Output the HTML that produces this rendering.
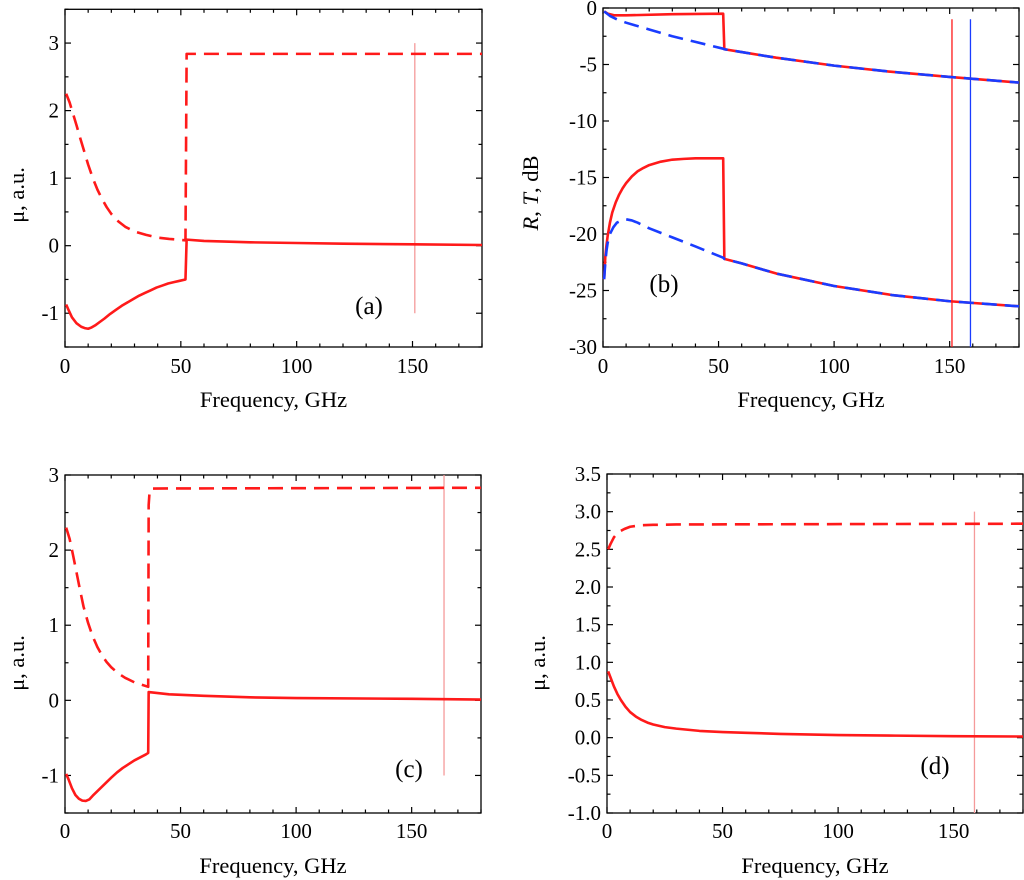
<!DOCTYPE html>
<html><head><meta charset="utf-8"><style>
html,body{margin:0;padding:0;background:#fff;}
svg{display:block;font-family:"Liberation Serif",serif;}
</style></head><body>
<svg id="fig" width="1024" height="880" viewBox="0 0 1024 880" xmlns="http://www.w3.org/2000/svg"></svg>
<script>
// ---- Panel (a) data ----
const aSolidF = [0.5,1.5,3,5,7,8.5,10,11.5,13,15,17,19.5,22,24.5,27,29.5,32,34.5,37,39.5,42,44.5,47,49.5,52,52.5,60,80,100,120,150,180];
const aSolidV = [-0.87,-0.95,-1.06,-1.15,-1.2,-1.22,-1.23,-1.21,-1.18,-1.13,-1.08,-1.01,-0.95,-0.89,-0.84,-0.79,-0.74,-0.7,-0.66,-0.62,-0.59,-0.56,-0.54,-0.52,-0.5,0.09,0.07,0.05,0.04,0.03,0.02,0.01];
const aDashF = [0.5,2,3.5,5,6.5,8,10,12,14,16,18,20,23,26,30,35,40,45,52,52.5,180];
const aDashV = [2.25,2.12,1.95,1.78,1.6,1.43,1.2,1.0,0.83,0.69,0.57,0.47,0.36,0.28,0.21,0.16,0.12,0.1,0.08,2.84,2.84];
const aMarker = [151];
// ---- Panel (b) data ----
const bRtopF = [0.5,2,5,10,30,52,52.5,60,75,100,125,150,180];
const bRtopV = [-0.3,-0.5,-0.65,-0.65,-0.55,-0.5,-3.65,-3.9,-4.4,-5.1,-5.65,-6.1,-6.6];
const bBtopF = [0.5,3,6,10,20,30,40,52,52.5,60,75,100,125,150,180];
const bBtopV = [-0.3,-0.7,-1.0,-1.3,-1.9,-2.5,-3.0,-3.6,-3.65,-3.9,-4.4,-5.1,-5.65,-6.1,-6.6];
const bRlowF = [0.5,1,1.5,2,3,4,5.5,7,8.5,10,12.5,15,17.5,20,25,30,35,40,46,52,52.5,60,75,100,125,150,180];
const bRlowV = [-24,-22,-21,-20.2,-19,-18.1,-17.2,-16.5,-15.95,-15.5,-14.9,-14.45,-14.15,-13.9,-13.6,-13.42,-13.35,-13.3,-13.3,-13.3,-22.2,-22.6,-23.5,-24.6,-25.4,-25.95,-26.4];
const bBlowF = [0.5,1,1.5,2,3,4.5,6,8,10,12.5,15,20,30,40,52,52.5,60,75,100,125,150,180];
const bBlowV = [-24,-22.5,-21.5,-20.8,-20,-19.4,-19,-18.8,-18.7,-18.8,-19.0,-19.5,-20.3,-21.1,-22.1,-22.2,-22.6,-23.5,-24.6,-25.4,-25.95,-26.4];
const bMarkers = [151,159];
// ---- Panel (c) data ----
const cSolidF = [0.5,1.5,3,4.5,6,7.5,9,10.5,12,14,16,18,20,22.5,25,27.5,30,32.5,35,36,36.2,45,60,80,100,150,180];
const cSolidV = [-0.98,-1.05,-1.17,-1.26,-1.31,-1.335,-1.34,-1.32,-1.27,-1.21,-1.15,-1.09,-1.03,-0.96,-0.9,-0.85,-0.8,-0.76,-0.72,-0.7,0.11,0.08,0.06,0.04,0.03,0.02,0.01];
const cDashF = [0.5,2,3.5,5,6.5,8,10,12,14,16,18,20,23,26,30,33,36,36.2,36.6,37.5,180];
const cDashV = [2.3,2.15,1.93,1.7,1.47,1.25,1.03,0.85,0.71,0.6,0.51,0.44,0.36,0.3,0.24,0.21,0.18,2.6,2.78,2.82,2.83];
const cMarker = [164];
// ---- Panel (d) data ----
const dSolidF = [0.5,1.5,3,4.5,6,8,10,12.5,15,17.5,20,25,30,40,50,60,75,100,125,150,180];
const dSolidV = [0.88,0.8,0.68,0.58,0.5,0.41,0.34,0.28,0.235,0.2,0.175,0.14,0.12,0.09,0.075,0.065,0.05,0.035,0.027,0.02,0.015];
const dDashF = [0.5,1.5,3,5,7.5,10,12.5,15,20,30,180];
const dDashV = [2.5,2.57,2.66,2.73,2.77,2.8,2.81,2.82,2.825,2.83,2.84];
const dMarker = [159];
// ---- tick labels ----
const xTicks = [0,50,100,150];
const aYTicks = [-1,0,1,2,3];
const bYTicks = [0,-5,-10,-15,-20,-25,-30];
const cYTicks = [-1,0,1,2,3];
const dYTicks = [-1.0,-0.5,0.0,0.5,1.0,1.5,2.0,2.5,3.0,3.5];

const NS="http://www.w3.org/2000/svg";
const svg=document.getElementById('fig');
function mk(tag,parent){const e=document.createElementNS(NS,tag);parent.appendChild(e);return e;}

function panel(cfg){
  const g=mk('g',svg);
  
  
  const X=f=>cfg.x0+(f-0)/(180-0)*(cfg.x1-cfg.x0);
  const Y=v=>cfg.y1+(v-cfg.ymin)/(cfg.ymax-cfg.ymin)*(cfg.y0-cfg.y1);
  const box=mk('rect',g);
  box.setAttribute('x',cfg.x0);box.setAttribute('y',cfg.y0);
  box.setAttribute('width',cfg.x1-cfg.x0);box.setAttribute('height',cfg.y1-cfg.y0);
  box.setAttribute('fill','none');box.setAttribute('stroke','#000');box.setAttribute('stroke-width','1.3');
  
  
  const tk=mk('g',g);
  
  
  tk.setAttribute('stroke','#000');tk.setAttribute('stroke-width','1.2');
  function line(p,x1,y1,x2,y2){const l=mk('line',p);l.setAttribute('x1',x1);l.setAttribute('y1',y1);l.setAttribute('x2',x2);l.setAttribute('y2',y2);return l;}
  for(let f=0;f<=180;f+=10){const L=(f%50===0)?6:3.5;const x=X(f);
    line(tk,x,cfg.y1,x,cfg.y1-L);line(tk,x,cfg.y0,x,cfg.y0+L);}
  for(let i=0;i<=cfg.nMinor;i++){const v=cfg.ymin+i*cfg.minorStep;const major=(Math.round((v-cfg.ymin)/cfg.minorStep)%2===cfg.majorParity);const L=major?6:3.5;const y=Y(v);
    line(tk,cfg.x0,y,cfg.x0+L,y);line(tk,cfg.x1,y,cfg.x1-L,y);}
  xTicks.forEach(t=>{const e=mk('text',g);e.setAttribute('x',X(t));e.setAttribute('y',cfg.xlabY);
    e.setAttribute('text-anchor','middle');e.setAttribute('font-size','21');e.textContent=t;
    
    });
  cfg.yTicks.forEach(t=>{const e=mk('text',g);e.setAttribute('x',cfg.x0-6);e.setAttribute('y',Y(t)+7);
    e.setAttribute('text-anchor','end');e.setAttribute('font-size','21');e.textContent=cfg.fmt(t);
    
    });
  const xt=mk('text',g);xt.setAttribute('x',(cfg.x0+cfg.x1)/2);xt.setAttribute('y',cfg.xtitleY);
  xt.setAttribute('text-anchor','middle');xt.setAttribute('font-size','22.5');xt.textContent='Frequency, GHz';
  
  
  const yt=mk('text',g);yt.setAttribute('transform','translate('+cfg.ytX+','+cfg.ytY+') rotate(-90)');
  yt.setAttribute('text-anchor','middle');yt.setAttribute('font-size','22.5');
  if(cfg.yHTML){yt.innerHTML=cfg.yHTML;}else{yt.textContent=cfg.ytitle;}
  
  
  cfg.markers.forEach(m=>{const l=line(g,X(m[0]),Y(m[1]),X(m[0]),Y(m[2]));l.setAttribute('stroke',m[3]);l.setAttribute('stroke-width','1.3');
    
    });
  cfg.series.forEach(s=>{const p=mk('path',g);
    p.setAttribute('d',s.f.map((f,i)=>(i?'L':'M')+X(f).toFixed(2)+','+Y(s.v[i]).toFixed(2)).join(''));
    p.setAttribute('fill','none');p.setAttribute('stroke',s.c);p.setAttribute('stroke-width','2.6');
    p.setAttribute('stroke-linejoin','round');
    if(s.dash)p.setAttribute('stroke-dasharray','15,8');
    
    });
  const lb=mk('text',g);lb.setAttribute('x',cfg.lab[0]);lb.setAttribute('y',cfg.lab[1]);
  lb.setAttribute('text-anchor','middle');lb.setAttribute('font-size','25');lb.textContent='('+cfg.id+')';
  
  
}
const RED='#ff1a1a', BLUE='#1a3cff', PINK='#f59a9a';
panel({id:'a',x0:65,x1:482,y0:9.3,y1:347,ymin:-1.5,ymax:3.5,minorStep:0.5,nMinor:10,majorParity:1,
  yTicks:aYTicks,fmt:t=>String(t),xlabY:373,xtitleY:407,ytitle:'μ, a.u.',ytX:24,ytY:195,lab:[369,314],
  markers:[[aMarker[0],3,-1,PINK]],
  series:[{f:aSolidF,v:aSolidV,c:RED,name:'mu-real-line'},{f:aDashF,v:aDashV,c:RED,dash:1,name:'mu-imag-line'}]});
panel({id:'b',x0:603,x1:1019,y0:8,y1:347,ymin:-30,ymax:0,minorStep:2.5,nMinor:12,majorParity:0,
  yTicks:bYTicks,fmt:t=>String(t),xlabY:373,xtitleY:407,yHTML:'<tspan font-style="italic">R</tspan>, <tspan font-style="italic">T</tspan>, dB',ytX:538,ytY:193,lab:[664,292],
  markers:[[bMarkers[0],-1,-30,RED],[bMarkers[1],-1,-30,BLUE]],
  series:[{f:bRtopF,v:bRtopV,c:RED,name:'transmission-red-line'},{f:bBtopF,v:bBtopV,c:BLUE,dash:1,name:'transmission-blue-line'},
          {f:bRlowF,v:bRlowV,c:RED,name:'reflection-red-line'},{f:bBlowF,v:bBlowV,c:BLUE,dash:1,name:'reflection-blue-line'}]});
panel({id:'c',x0:65,x1:481,y0:475,y1:813,ymin:-1.5,ymax:3,minorStep:0.5,nMinor:9,majorParity:1,
  yTicks:cYTicks,fmt:t=>String(t),xlabY:838,xtitleY:873,ytitle:'μ, a.u.',ytX:24,ytY:663,lab:[409,777],
  markers:[[cMarker[0],3,-1,PINK]],
  series:[{f:cSolidF,v:cSolidV,c:RED,name:'mu-real-line'},{f:cDashF,v:cDashV,c:RED,dash:1,name:'mu-imag-line'}]});
panel({id:'d',x0:607,x1:1023,y0:474,y1:813,ymin:-1,ymax:3.5,minorStep:0.25,nMinor:18,majorParity:0,
  yTicks:dYTicks,fmt:t=>t.toFixed(1),xlabY:838,xtitleY:873,ytitle:'μ, a.u.',ytX:545,ytY:663,lab:[935,774],
  markers:[[dMarker[0],3,-1,PINK]],
  series:[{f:dSolidF,v:dSolidV,c:RED,name:'mu-real-line'},{f:dDashF,v:dDashV,c:RED,dash:1,name:'mu-imag-line'}]});
</script>
</body></html>
